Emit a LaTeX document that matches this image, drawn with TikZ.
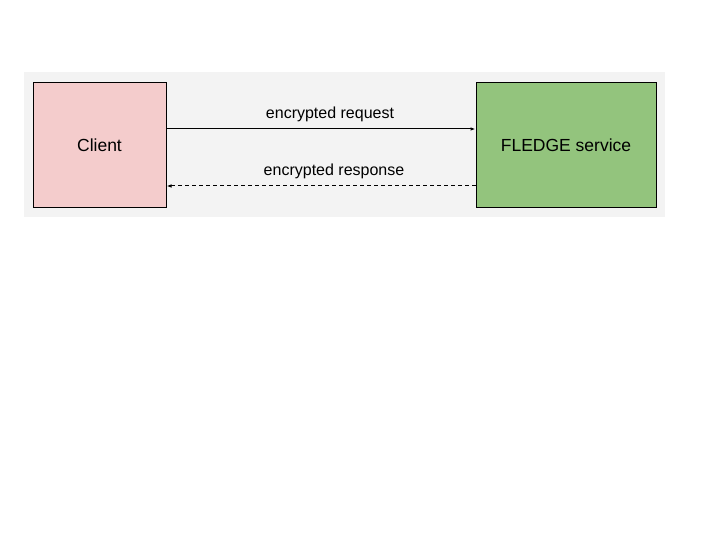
\documentclass[tikz,border=0pt]{standalone}
\usepackage{fontspec}
\setmainfont{Liberation Sans}
\usetikzlibrary{arrows.meta, positioning}

\definecolor{panelgray}{HTML}{F3F3F3}
\definecolor{clientpink}{HTML}{F4CCCC}
\definecolor{servicegreen}{HTML}{93C47D}

\tikzset{
  party/.style={draw=black, line width=1pt, minimum height=125pt, font=\fontsize{17.5}{20}\selectfont},
  msg/.style={line width=1pt, -{Latex[length=5pt,width=3.5pt]}},
  msglabel/.style={font=\fontsize{16}{19}\selectfont, above=3pt}
}

\begin{document}
\begin{tikzpicture}[x=1pt,y=1pt]
\useasboundingbox (0,0) rectangle (720,540);

\fill[panelgray] (24,323) rectangle (665,468);

\node[party, fill=clientpink, minimum width=133pt] (client) at (99.5,394.5) {Client};
\node[party, fill=servicegreen, minimum width=180pt] (fledge) at (566,394.5) {FLEDGE service};

\draw[msg] ([yshift=16.5pt]client.east) -- ([yshift=16.5pt]fledge.west)
  node[msglabel, midway, xshift=9pt] (req) {encrypted request};
\draw[msg, dash pattern=on 4pt off 3pt] ([yshift=-40.5pt]fledge.west) -- ([yshift=-40.5pt]client.east)
  node[msglabel, midway, xshift=13pt] (resp) {encrypted response};
\end{tikzpicture}
\end{document}
